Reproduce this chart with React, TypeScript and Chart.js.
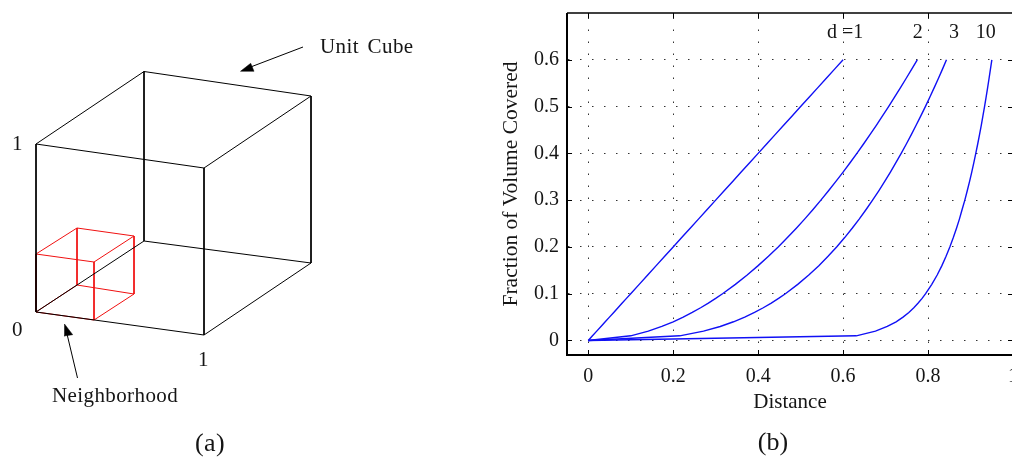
import React, { useEffect, useRef } from "react";
import { Chart, registerables } from "chart.js";

Chart.register(...registerables);

// ---- panel (b) data ----
const xTicks = [0, 0.2, 0.4, 0.6, 0.8, 1];
const yTicks = [0, 0.1, 0.2, 0.3, 0.4, 0.5, 0.6];
const volume = [0, 0.01, 0.02, 0.03, 0.04, 0.05, 0.06, 0.07, 0.08, 0.09, 0.1, 0.12, 0.14, 0.16, 0.18, 0.2, 0.22, 0.24, 0.26, 0.28, 0.3, 0.32, 0.34, 0.36, 0.38, 0.4, 0.42, 0.44, 0.46, 0.48, 0.5, 0.52, 0.54, 0.56, 0.58, 0.6];
const distD1 = [0, 0.01, 0.02, 0.03, 0.04, 0.05, 0.06, 0.07, 0.08, 0.09, 0.1, 0.12, 0.14, 0.16, 0.18, 0.2, 0.22, 0.24, 0.26, 0.28, 0.3, 0.32, 0.34, 0.36, 0.38, 0.4, 0.42, 0.44, 0.46, 0.48, 0.5, 0.52, 0.54, 0.56, 0.58, 0.6];
const distD2 = [0, 0.1, 0.1414, 0.1732, 0.2, 0.2236, 0.2449, 0.2646, 0.2828, 0.3, 0.3162, 0.3464, 0.3742, 0.4, 0.4243, 0.4472, 0.469, 0.4899, 0.5099, 0.5292, 0.5477, 0.5657, 0.5831, 0.6, 0.6164, 0.6325, 0.6481, 0.6633, 0.6782, 0.6928, 0.7071, 0.7211, 0.7348, 0.7483, 0.7616, 0.7746];
const distD3 = [0, 0.2154, 0.2714, 0.3107, 0.342, 0.3684, 0.3915, 0.4121, 0.4309, 0.4481, 0.4642, 0.4932, 0.5192, 0.5429, 0.5646, 0.5848, 0.6037, 0.6214, 0.6383, 0.6542, 0.6694, 0.684, 0.698, 0.7114, 0.7243, 0.7368, 0.7489, 0.7606, 0.7719, 0.783, 0.7937, 0.8041, 0.8143, 0.8243, 0.834, 0.8434];
const distD10 = [0, 0.631, 0.6762, 0.704, 0.7248, 0.7411, 0.7548, 0.7665, 0.7768, 0.786, 0.7943, 0.8088, 0.8215, 0.8326, 0.8424, 0.8513, 0.8595, 0.867, 0.874, 0.8802, 0.8866, 0.8923, 0.8978, 0.9029, 0.9078, 0.9124, 0.9169, 0.9212, 0.9253, 0.9292, 0.933, 0.9367, 0.9402, 0.9436, 0.9469, 0.9502];
const curveLabels = [
  { text: "d =1", x: 0.605, y: 0.647 },
  { text: "2", x: 0.776, y: 0.647 },
  { text: "3", x: 0.861, y: 0.647 },
  { text: "10", x: 0.936, y: 0.647 },
];
const captionB = { text: "(b)", x: 0.435, y: -0.234 };

// ---- panel (a) data: corners of the drawing, in the diagram's own units ----
const cubeEdges = [
  [[36, 144], [204, 168]], [[204, 168], [311, 96]], [[311, 96], [144, 71.5]], [[144, 71.5], [36, 144]],
  [[36, 312], [204, 335]], [[204, 335], [311, 263]], [[311, 263], [144, 241]], [[144, 241], [36, 312]],
  [[36, 144], [36, 312]], [[204, 168], [204, 335]], [[311, 96], [311, 263]], [[144, 71.5], [144, 241]],
];
const neighborhoodEdges = [
  [[36, 254], [94, 262]], [[94, 262], [134, 236]], [[134, 236], [77, 228]], [[77, 228], [36, 254]],
  [[36, 312], [94, 320]], [[94, 320], [134, 294]], [[134, 294], [77, 285]], [[77, 285], [36, 312]],
  [[36, 254], [36, 312]], [[94, 262], [94, 320]], [[134, 236], [134, 294]], [[77, 228], [77, 285]],
];
const arrowShafts = [
  [[303, 47], [248, 68]],
  [[77.5, 378], [67, 334]],
];
const arrowHeads = [
  [[240.5, 71.3], [250.7, 63.3], [254, 71.3], [240.5, 71.3]],
  [[64.5, 324], [72.7, 334.7], [64, 336], [64.5, 324]],
];
const cubeLabels = [
  { text: "Unit Cube", x: 320, y: 53 },
  { text: "1", x: 12, y: 150 },
  { text: "0", x: 12, y: 336 },
  { text: "1", x: 198, y: 366 },
  { text: "Neighborhood", x: 52, y: 402 },
];
const captionA = { text: "(a)", x: 195, y: 451 };

const SERIF = "'Liberation Serif', serif";
const INK = "#151515";
const BLUE = "#1010f5";

const toPoints = (pairs: number[][]) => pairs.map(([x, y]) => ({ x, y }));

function textPlugin(labels: any[], font: string, align: CanvasTextAlign, spacing: string, wordGap: string, caption: any, captionFont: string, captionAlign: CanvasTextAlign) {
  return {
    id: "textLabels",
    afterDraw(chart: any) {
      const { ctx, scales } = chart;
      const draw = (l: any, f: string, a: CanvasTextAlign) => {
        ctx.save();
        ctx.font = f;
        ctx.fillStyle = INK;
        ctx.textAlign = a;
        ctx.textBaseline = "alphabetic";
        (ctx as any).letterSpacing = spacing;
        (ctx as any).wordSpacing = wordGap;
        ctx.fillText(l.text, scales.x.getPixelForValue(l.x), scales.y.getPixelForValue(l.y));
        ctx.restore();
      };
      labels.forEach((l) => draw(l, font, align));
      draw(caption, captionFont, captionAlign);
    },
  };
}

const framePlugin = {
  id: "frame",
  afterDraw(chart: any) {
    const { ctx, chartArea: a, scales } = chart;
    ctx.save();
    ctx.strokeStyle = "#000";
    ctx.lineWidth = 1;
    xTicks.forEach((t) => {
      const x = Math.round(scales.x.getPixelForValue(t)) + 0.5;
      ctx.beginPath();
      ctx.moveTo(x, a.top);
      ctx.lineTo(x, a.top + 5);
      ctx.moveTo(x, a.bottom);
      ctx.lineTo(x, a.bottom - 5);
      ctx.stroke();
    });
    yTicks.forEach((t) => {
      const y = Math.round(scales.y.getPixelForValue(t)) + 0.5;
      ctx.beginPath();
      ctx.moveTo(a.left, y);
      ctx.lineTo(a.left + 5, y);
      ctx.moveTo(a.right, y);
      ctx.lineTo(a.right - 5, y);
      ctx.stroke();
    });
    ctx.lineWidth = 2;
    ctx.beginPath();
    ctx.moveTo(a.right, a.bottom);
    ctx.lineTo(a.left, a.bottom);
    ctx.lineTo(a.left, a.top);
    ctx.stroke();
    ctx.lineWidth = 1.5;
    ctx.beginPath();
    ctx.moveTo(a.left, a.top);
    ctx.lineTo(a.right, a.top);
    ctx.stroke();
    ctx.restore();
  },
};

export default function App() {
  const cubeRef = useRef<HTMLCanvasElement>(null);
  const curveRef = useRef<HTMLCanvasElement>(null);

  useEffect(() => {
    const edgeSet = (edges: number[][][], color: string, width: number) =>
      edges.map((e) => ({
        data: toPoints(e),
        borderColor: color,
        borderWidth: width,
        pointRadius: 0,
        showLine: true,
      }));

    const cube = new Chart(cubeRef.current!, {
      type: "scatter",
      data: {
        datasets: [
          ...edgeSet(cubeEdges, "#000", 1),
          ...edgeSet(neighborhoodEdges, "#f01010", 1),
          ...edgeSet(arrowShafts, "#000", 1),
          ...arrowHeads.map((h) => ({
            data: toPoints(h),
            borderColor: "#000",
            backgroundColor: "#000",
            borderWidth: 0.5,
            pointRadius: 0,
            showLine: true,
            fill: "shape",
          })),
        ] as any,
      },
      options: {
        animation: false,
        responsive: false,
        layout: { padding: 0 },
        plugins: { legend: { display: false }, tooltip: { enabled: false } },
        scales: {
          x: { type: "linear", min: 0, max: 480, display: false },
          y: { type: "linear", min: 0, max: 457, reverse: true, display: false },
        },
      },
      plugins: [textPlugin(cubeLabels, `21px ${SERIF}`, "left", "0.4px", "3px", captionA, `26px ${SERIF}`, "left")],
    } as any);

    const curve = (xs: number[]) => ({
      data: xs.map((x, i) => ({ x, y: volume[i] })),
      borderColor: BLUE,
      borderWidth: 1.4,
      pointRadius: 0,
      showLine: true,
      tension: 0,
    });

    const chart = new Chart(curveRef.current!, {
      type: "scatter",
      data: { datasets: [curve(distD1), curve(distD2), curve(distD3), curve(distD10)] as any },
      options: {
        animation: false,
        responsive: false,
        layout: { padding: { top: 13, right: 27, bottom: 0, left: 0 } },
        plugins: { legend: { display: false }, tooltip: { enabled: false } },
        scales: {
          x: {
            type: "linear",
            min: -0.05,
            max: 1,
            afterBuildTicks: (s: any) => { s.ticks = xTicks.map((value) => ({ value })); },
            afterFit: (s: any) => { s.height = 102; s.paddingLeft = 0; s.paddingRight = 0; },
            grid: { color: "#333", lineWidth: 1, drawTicks: false },
            border: { display: false, dash: [1.5, 10.5], dashOffset: 7.5 },
            ticks: {
              autoSkip: false,
              maxRotation: 0,
              padding: 10,
              color: INK,
              font: { family: SERIF, size: 20 },
              callback: (v: any) => String(v),
            },
            title: { display: true, text: "Distance", color: INK, font: { family: SERIF, size: 21 }, padding: { top: 0, bottom: 42 } },
          },
          y: {
            type: "linear",
            min: -0.031,
            max: 0.7,
            afterBuildTicks: (s: any) => { s.ticks = yTicks.map((value) => ({ value })); },
            afterFit: (s: any) => { s.width = 87; s.paddingTop = 0; s.paddingBottom = 0; },
            grid: { color: "#333", lineWidth: 1, drawTicks: false },
            border: { display: false, dash: [1.5, 10.5], dashOffset: 11 },
            ticks: {
              autoSkip: false,
              padding: 8,
              color: INK,
              font: { family: SERIF, size: 20 },
              callback: (v: any) => String(v),
            },
            title: { display: true, text: "Fraction of Volume Covered", color: INK, font: { family: SERIF, size: 21.5 }, padding: { top: 18, bottom: 0 } },
          },
        },
      },
      plugins: [framePlugin, textPlugin(curveLabels, `20px ${SERIF}`, "center", "0px", "0px", captionB, `26px ${SERIF}`, "center")],
    } as any);

    return () => {
      cube.destroy();
      chart.destroy();
    };
  }, []);

  return (
    <div style={{ position: "fixed", left: 0, top: 0, width: 1012, height: 457, overflow: "hidden", background: "#fff" }}>
      <canvas ref={cubeRef} width={480} height={457} style={{ position: "absolute", left: 0, top: 0 }} />
      <canvas ref={curveRef} width={560} height={457} style={{ position: "absolute", left: 480, top: 0 }} />
    </div>
  );
}
